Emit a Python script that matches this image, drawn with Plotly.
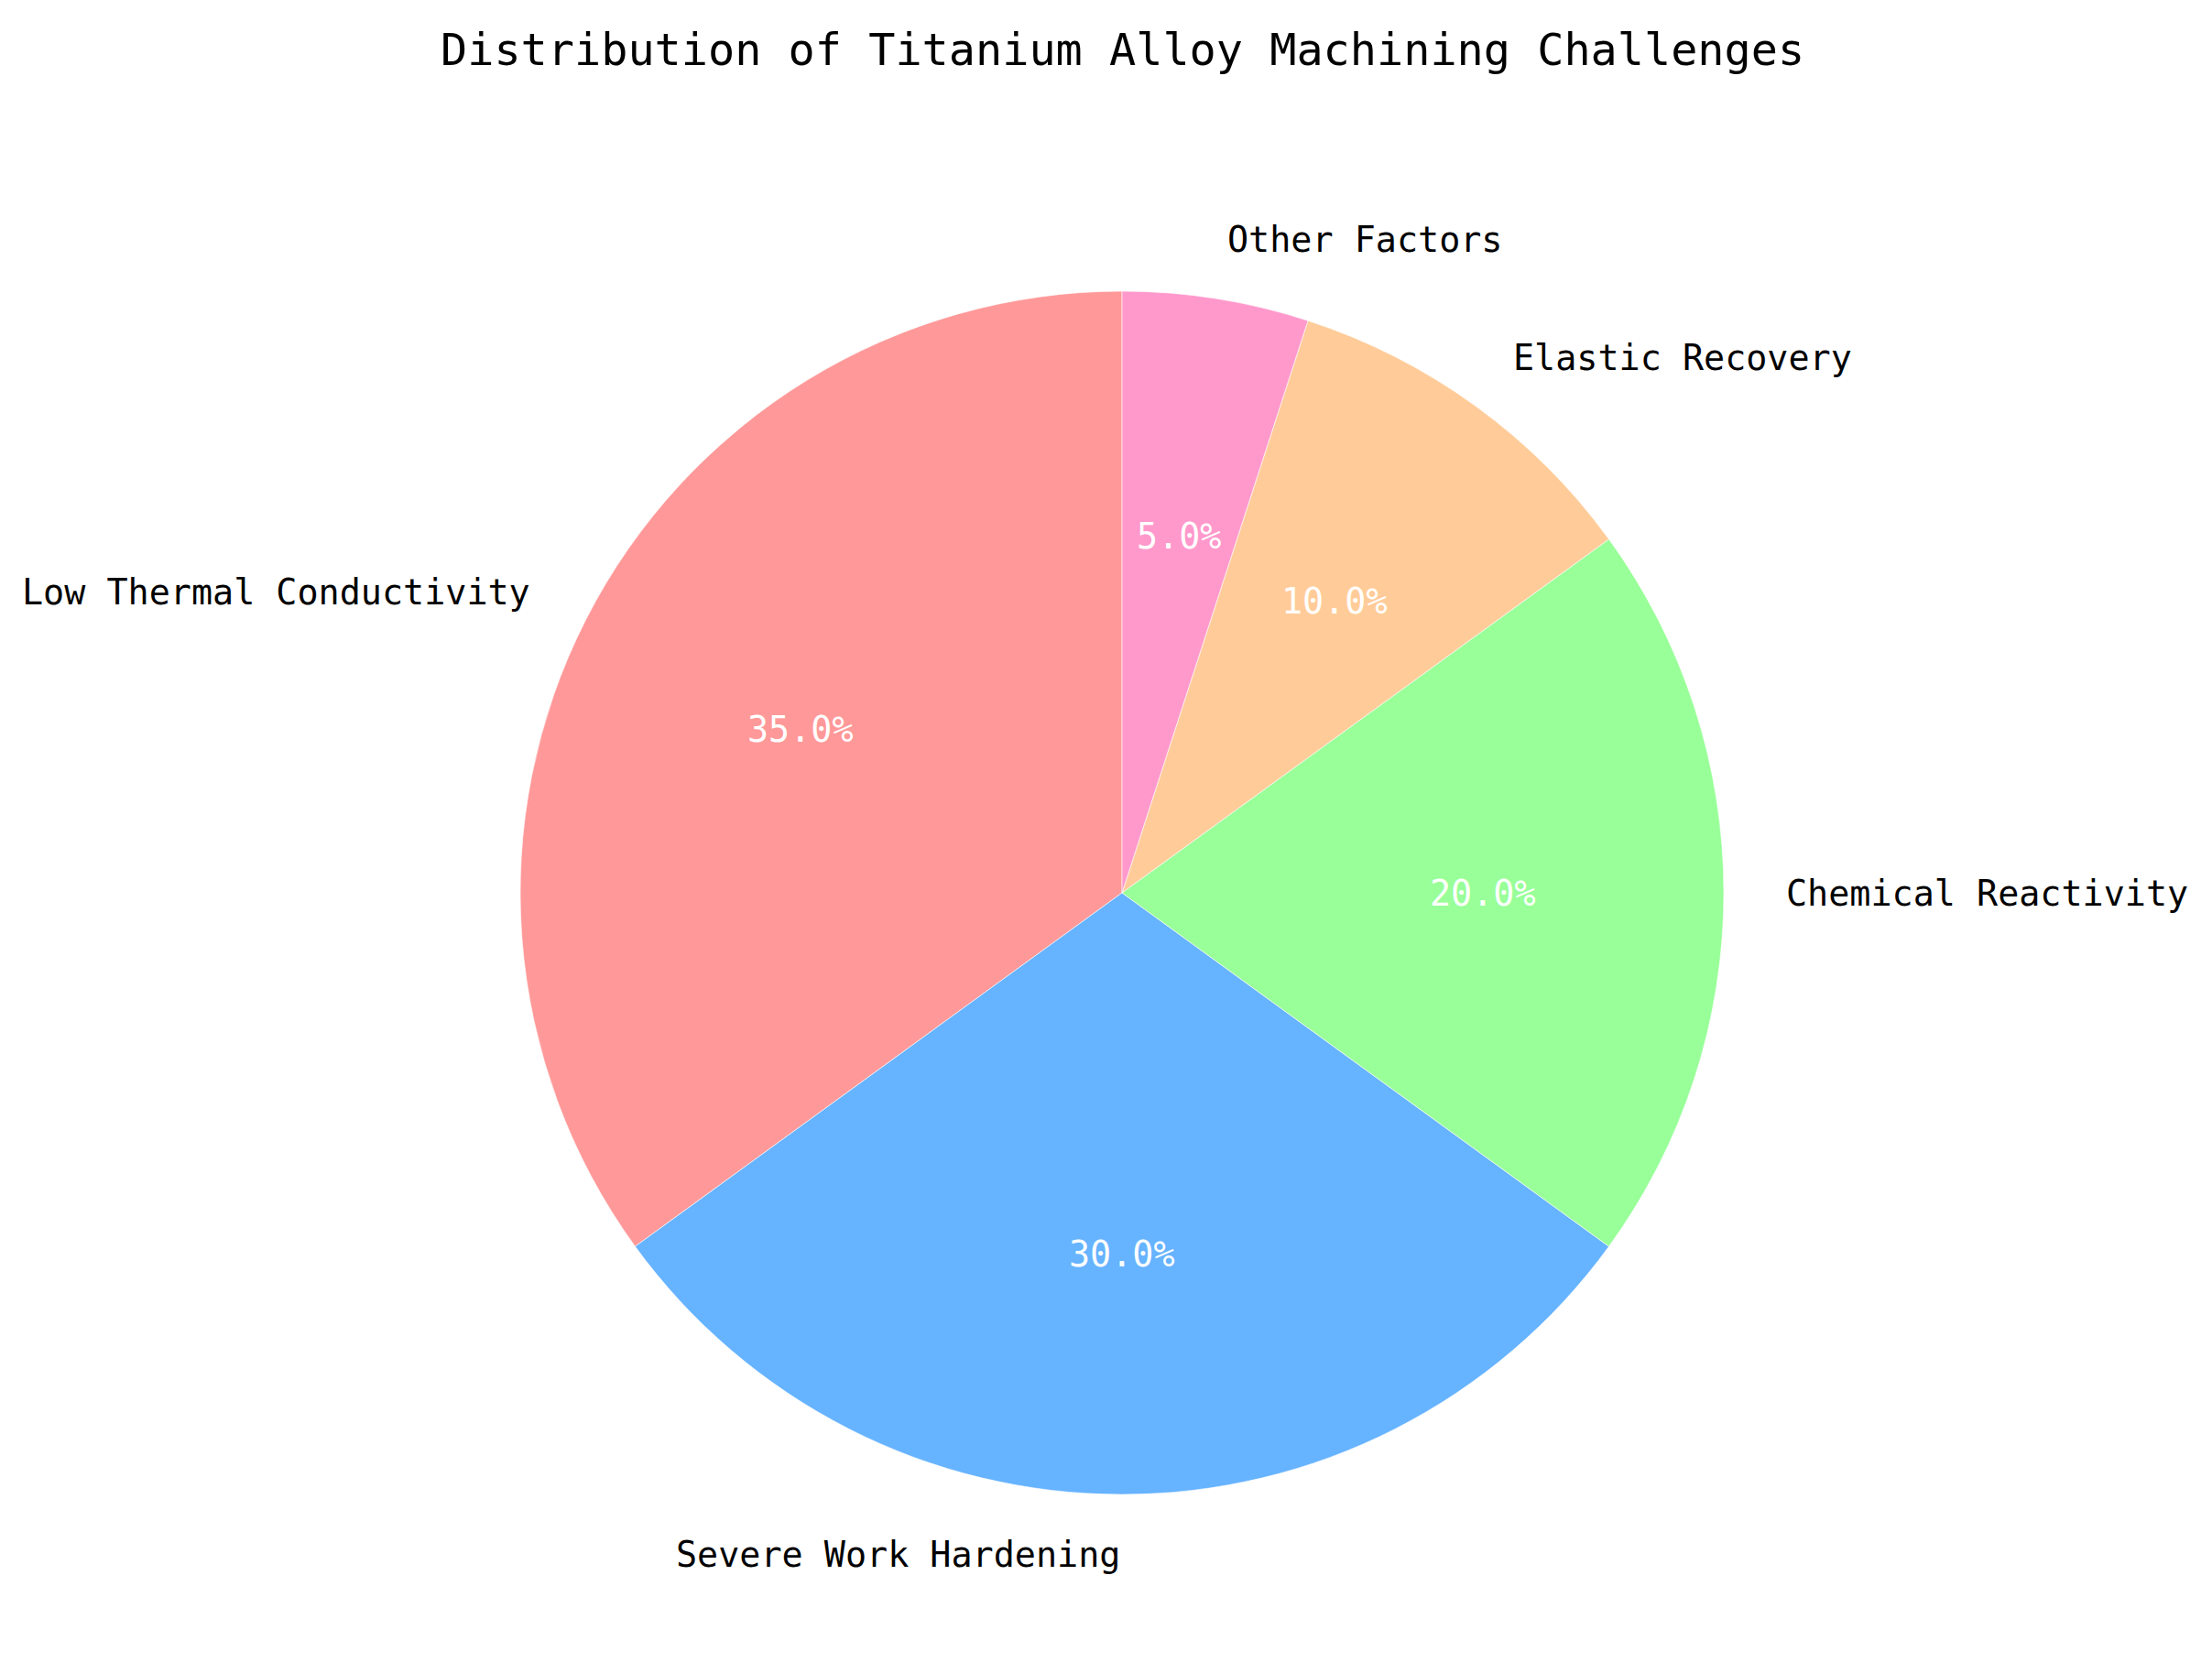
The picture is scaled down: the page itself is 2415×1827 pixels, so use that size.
import math
import plotly.graph_objects as go

categories = ["Low Thermal Conductivity", "Severe Work Hardening", "Chemical Reactivity",
              "Elastic Recovery", "Other Factors"]
values = [35, 30, 20, 10, 5]
colors = ["#FF9999", "#66B3FF", "#99FF99", "#FFCC99", "#FF99CC"]
title_text = "Distribution of Titanium Alloy Machining Challenges"

W, H = 2415, 1827
PAGE_OFF = 8  # default browser body margin
CX, CY, R = 1225 - PAGE_OFF, 975 - PAGE_OFF, 657  # pixel geometry of the pie (top-left origin)
FONT = "DejaVu Sans Mono"

dom_x = [(CX - R) / W, (CX + R) / W]
dom_y = [(H - CY - R) / H, (H - CY + R) / H]

total = sum(values)
# plotly places the first slice clockwise of the rotation point when counterclockwise;
# shift so the first slice starts at 12 o'clock and proceeds counterclockwise
rot = -360.0 * values[0] / total

fig = go.Figure(go.Pie(
    labels=categories, values=values, sort=False, direction="counterclockwise",
    rotation=rot, marker=dict(colors=colors, line=dict(color="rgba(255,255,255,0.6)", width=1)),
    textinfo="none", hoverinfo="label+percent", showlegend=False,
    domain=dict(x=dom_x, y=dom_y),
))

annotations = []
start = 90.0
for cat, v in zip(categories, values):
    span = 360.0 * v / total
    mid = math.radians(start + span / 2)
    start += span
    c, s = math.cos(mid), math.sin(mid)
    # label at 1.1 R
    lx = CX + 1.1 * R * c
    ly = CY - 1.1 * R * s
    annotations.append(dict(
        x=lx / W, y=1 - ly / H, xref="paper", yref="paper", text=cat, showarrow=False,
        xanchor="left" if c > 0 else "right", yanchor="middle",
        font=dict(family=FONT, size=38.4, color="black")))
    # percent at 0.6 R
    px = CX + 0.6 * R * c
    py = CY - 0.6 * R * s
    annotations.append(dict(
        x=px / W, y=1 - py / H, xref="paper", yref="paper",
        text=f"{100.0 * v / total:.1f}%", showarrow=False,
        xanchor="center", yanchor="middle",
        font=dict(family=FONT, size=38.4, color="white")))

# title centred over the pie
annotations.append(dict(
    x=CX / W, y=1 - (54 - PAGE_OFF) / H, xref="paper", yref="paper", text=title_text,
    showarrow=False, xanchor="center", yanchor="middle",
    font=dict(family=FONT, size=48.5, color="black")))

fig.update_layout(
    width=W, height=H, margin=dict(l=0, r=0, t=0, b=0),
    paper_bgcolor="white", plot_bgcolor="white",
    annotations=annotations,
)

fig.write_html("out.html")
